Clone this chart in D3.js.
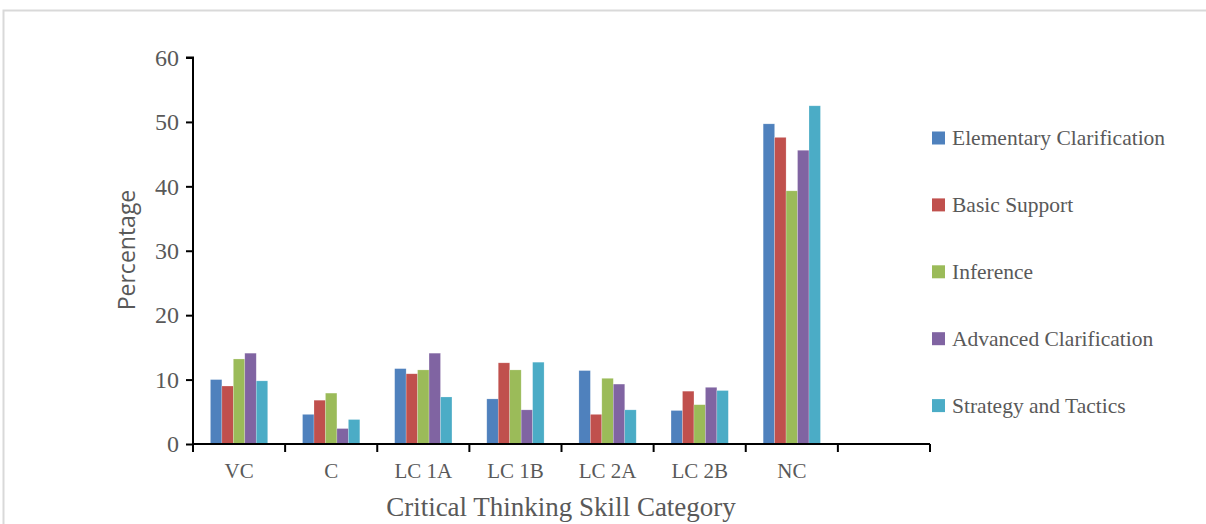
<!DOCTYPE html>
<html>
<head>
<meta charset="utf-8">
<script src="https://cdn.jsdelivr.net/npm/d3@7/dist/d3.min.js"></script>
<style>
  html, body { margin: 0; padding: 0; background: #fff; }
  svg { display: block; }
</style>
</head>
<body>
<svg id="chart" width="1206" height="524"></svg>
<script>
const categories = ["VC", "C", "LC 1A", "LC 1B", "LC 2A", "LC 2B", "NC", ""];
const seriesNames = ["Elementary Clarification", "Basic Support", "Inference", "Advanced Clarification", "Strategy and Tactics"];
const elementaryClarification = [10.0, 4.6, 11.7, 7.0, 11.4, 5.2, 49.7, null];
const basicSupport            = [9.0, 6.8, 10.9, 12.6, 4.6, 8.2, 47.6, null];
const inference               = [13.2, 7.9, 11.5, 11.5, 10.2, 6.1, 39.3, null];
const advancedClarification   = [14.1, 2.4, 14.1, 5.3, 9.3, 8.8, 45.6, null];
const strategyAndTactics      = [9.8, 3.8, 7.3, 12.7, 5.3, 8.3, 52.5, null];
const yTicks = [0, 10, 20, 30, 40, 50, 60];
const colors = ["#4F81BD", "#C0504D", "#9BBB59", "#8064A2", "#4BACC6"];

const seriesValues = [elementaryClarification, basicSupport, inference, advancedClarification, strategyAndTactics];

const svg = d3.select("#chart");
const textColor = "#595959";
const serif = "'Liberation Serif', 'Times New Roman', serif";

// outer frame
svg.append("path")
  .attr("d", "M3.5,530 V10.5 H1210")
  .attr("fill", "none").attr("stroke", "#d9d9d9").attr("stroke-width", 2);

const x0 = d3.scaleBand().domain(categories).range([193, 930]).padding(0);
const x1 = d3.scaleBand().domain(seriesNames).range([0, x0.bandwidth()]).paddingInner(0).paddingOuter(1.52);
const y = d3.scaleLinear().domain([0, 60]).range([444, 57.5]);

// bars
const g = svg.append("g");
categories.forEach((cat, ci) => {
  seriesNames.forEach((s, si) => {
    const v = seriesValues[si][ci];
    if (v == null) return;
    g.append("rect")
      .attr("x", x0(cat) + x1(s))
      .attr("y", y(v))
      .attr("width", x1.bandwidth())
      .attr("height", y(0) - y(v))
      .attr("fill", colors[si])
      .attr("stroke", "rgba(255,255,255,0.35)")
      .attr("stroke-width", 0.6);
  });
});

// y axis
const yAxis = d3.axisLeft(y).tickValues(yTicks).tickSize(7).tickPadding(7);
const ya = svg.append("g").attr("transform", "translate(193,0)").call(yAxis);
ya.select(".domain").attr("stroke", "#000").attr("stroke-width", 2).attr("d", "M-7," + y(60) + "H0V" + y(0));
ya.selectAll(".tick line").attr("stroke", "#000").attr("stroke-width", 2);
ya.selectAll(".tick text").attr("fill", textColor).style("font-family", serif).style("font-size", "24px");

// x axis
const xa = svg.append("g").attr("transform", "translate(0," + y(0) + ")");
xa.append("line").attr("x1", 192).attr("x2", 930).attr("y1", 0).attr("y2", 0)
  .attr("stroke", "#000").attr("stroke-width", 2);
const boundaries = categories.map(c => x0(c)).concat([x0(categories[categories.length - 1]) + x0.bandwidth()]);
xa.selectAll(".btick").data(boundaries).enter().append("line")
  .attr("x1", d => d).attr("x2", d => d).attr("y1", 0).attr("y2", 8)
  .attr("stroke", "#000").attr("stroke-width", 2);
xa.selectAll(".xlab").data(categories.filter(c => c !== "")).enter().append("text")
  .attr("x", d => x0(d) + x0.bandwidth() / 2)
  .attr("y", 34)
  .attr("text-anchor", "middle")
  .attr("fill", textColor)
  .style("font-family", serif).style("font-size", "21px")
  .text(d => d);

// axis titles
svg.append("text")
  .attr("x", 561).attr("y", 516)
  .attr("text-anchor", "middle")
  .attr("fill", textColor)
  .style("font-family", serif).style("font-size", "27px")
  .text("Critical Thinking Skill Category");

svg.append("text")
  .attr("transform", "translate(135,250) rotate(-90)")
  .attr("text-anchor", "middle")
  .attr("fill", textColor)
  .style("font-family", "'Open Sans', 'Noto Sans', sans-serif").style("font-size", "23px")
  .text("Percentage");

// legend
const legend = svg.append("g");
seriesNames.forEach((s, i) => {
  const cy = 138 + i * 66.9;
  legend.append("rect").attr("x", 932).attr("y", cy - 6.5).attr("width", 13).attr("height", 13).attr("fill", colors[i]);
  legend.append("text").attr("x", 952).attr("y", cy + 7)
    .attr("fill", textColor)
    .style("font-family", serif).style("font-size", "21.5px")
    .text(s);
});
</script>
</body>
</html>
